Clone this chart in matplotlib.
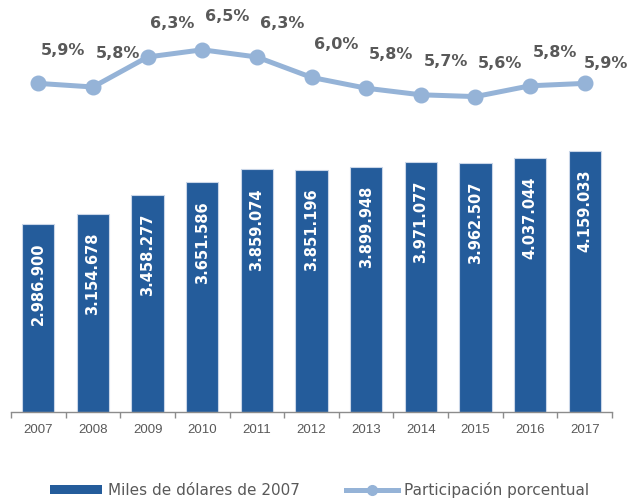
import matplotlib
matplotlib.use("Agg")
import matplotlib.pyplot as plt
from matplotlib.lines import Line2D
from matplotlib.patches import Patch
import numpy as np

years = ["2007", "2008", "2009", "2010", "2011", "2012",
         "2013", "2014", "2015", "2016", "2017"]
miles_usd = [2986900, 3154678, 3458277, 3651586, 3859074, 3851196,
             3899948, 3971077, 3962507, 4037044, 4159033]
participacion = [5.86, 5.80, 6.30, 6.42, 6.30, 5.96, 5.78, 5.67, 5.64, 5.82, 5.86]
participacion_labels = ["5,9%", "5,8%", "6,3%", "6,5%", "6,3%", "6,0%",
                        "5,8%", "5,7%", "5,6%", "5,8%", "5,9%"]

BAR_BLUE = "#245C9B"
LINE_BLUE = "#95B3D7"
GREY_TXT = "#595959"

fig = plt.figure(figsize=(6.29, 4.98), dpi=100)
ax = fig.add_axes([0.0175, 0.1727, 0.9555, 0.8273])
x = np.arange(len(years))

ax.bar(x, miles_usd, width=0.59, color=BAR_BLUE,
       edgecolor="#C9D6E8", linewidth=0.8, zorder=2)
ax.set_xlim(-0.5, len(years) - 0.5)
ax.set_ylim(0, 6.553e6)

# value labels, rotated, inside the top of each bar
for xi, v in zip(x, miles_usd):
    txt = f"{v:,}".replace(",", ".")
    ax.annotate(txt, (xi, v), xytext=(0, -13.5), textcoords="offset points",
                rotation=90, ha="center", va="top", color="white",
                fontsize=10.5, fontweight="bold")

for s in ["top", "left", "right"]:
    ax.spines[s].set_visible(False)
ax.spines["bottom"].set_color("#8C8C8C")
ax.spines["bottom"].set_linewidth(1.0)
ax.set_yticks([])
ax.set_xticks(x)
ax.set_xticklabels(years, fontsize=9.5, color=GREY_TXT, family="Liberation Sans")
ax.tick_params(axis="x", which="major", length=0, pad=9)
ax.set_xticks(np.arange(-0.5, len(years), 1.0), minor=True)
ax.tick_params(axis="x", which="minor", length=4, color="#8C8C8C", width=1.0)

# participation line on a twin axis
ax2 = ax.twinx()
ax2.set_ylim(0.383, 7.25)
ax2.plot(x, participacion, color=LINE_BLUE, linewidth=3.6,
         marker="o", markersize=10.5, zorder=3)
ax2.axis("off")
for i, (xi, v, lab) in enumerate(zip(x, participacion, participacion_labels)):
    off = (15, 14) if i == len(x) - 1 else (18, 24)
    ax2.annotate(lab, (xi, v), xytext=off, textcoords="offset points",
                 ha="center", va="center", color=GREY_TXT,
                 fontsize=11.5, fontweight="bold")

handles = [
    Patch(facecolor=BAR_BLUE, edgecolor="none", label="Miles de dólares de 2007"),
    Line2D([0], [0], color=LINE_BLUE, linewidth=3.6, marker="o",
           markersize=7, label="Participación porcentual"),
]
fig.legend(handles=handles, loc="center", bbox_to_anchor=(0.508, 0.016),
           ncol=2, frameon=False, fontsize=11, labelcolor=GREY_TXT,
           handlelength=3.4, handleheight=0.6, handletextpad=0.4,
           columnspacing=3.0, borderpad=0)

fig.savefig("out.png", dpi=100)
